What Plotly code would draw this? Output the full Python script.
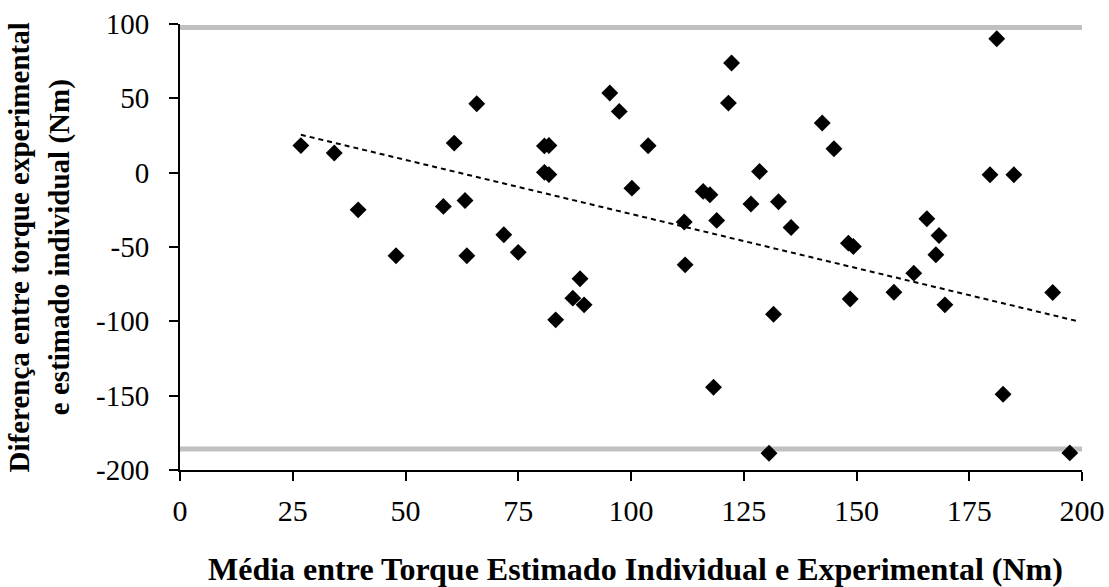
import plotly.graph_objects as go

# Mean of the two torque estimates (Nm) and their difference (Nm)
media = [26.8, 34.2, 39.5, 47.9, 58.4, 60.8, 63.2, 63.6, 65.8, 71.8,
         75.0, 80.8, 81.8, 80.8, 81.8, 83.3, 87.1, 88.7, 89.6, 95.3,
         97.4, 100.2, 103.8, 111.8, 112.0, 116.0, 117.5, 118.3, 119.0, 121.6,
         122.3, 126.6, 128.5, 130.6, 131.6, 132.7, 135.5, 142.4, 145.0, 148.2,
         149.3, 148.6, 158.3, 162.7, 165.6, 167.6, 168.3, 169.6, 179.6, 181.1,
         182.5, 184.9, 193.5, 197.3]
diferenca = [18.2, 13.2, -25.0, -55.9, -22.7, 19.9, -18.7, -55.9, 46.4, -41.8,
             -53.6, 18.0, 18.3, 0.2, -1.3, -99.0, -84.4, -71.4, -88.9, 53.6,
             41.2, -10.4, 18.1, -33.2, -62.0, -12.6, -14.9, -144.3, -32.1, 46.8,
             73.8, -21.1, 0.8, -188.7, -95.2, -19.6, -36.9, 33.4, 16.1, -47.4,
             -49.7, -85.0, -80.4, -67.6, -31.0, -55.2, -42.3, -88.9, -1.4, 90.1,
             -149.0, -1.4, -80.6, -188.5]

# Linear trend line end points
tendencia_x = [26.8, 199.3]
tendencia_y = [25.5, -100.1]

# Limits of agreement
limite_superior = 97.7
limite_inferior = -185.8

x_ticks = [0, 25, 50, 75, 100, 125, 150, 175, 200]
y_ticks = [100, 50, 0, -50, -100, -150, -200]
y_tick_text = ["100", "50", "0", "-50", "-100", "-150", "-200"]

FONT = "Liberation Serif, Times New Roman, serif"

fig = go.Figure()

# Limit-of-agreement lines
for lim in (limite_superior, limite_inferior):
    fig.add_trace(go.Scatter(
        x=[x_ticks[0], x_ticks[-1]], y=[lim, lim], mode="lines",
        line=dict(color="#c0c0c0", width=5), hoverinfo="skip", showlegend=False,
        cliponaxis=False,
    ))

fig.add_trace(go.Scatter(
    x=tendencia_x, y=tendencia_y, mode="lines",
    line=dict(color="black", width=2, dash="5px,4px"),
    showlegend=False,
))

fig.add_trace(go.Scatter(
    x=media, y=diferenca, mode="markers",
    marker=dict(symbol="diamond", size=13, color="black"),
    showlegend=False, cliponaxis=False,
))

fig.update_layout(
    width=1109, height=587,
    margin=dict(l=180, r=27, t=24, b=117),
    paper_bgcolor="white", plot_bgcolor="white",
    font=dict(family=FONT, color="black", size=30),
    xaxis=dict(
        range=[0, 200], tickvals=x_ticks, ticks="outside", ticklen=9,
        tickwidth=2, tickcolor="black", showline=True, linecolor="black",
        linewidth=2, showgrid=False, zeroline=False, automargin=False,
        tickfont=dict(family=FONT, size=30, color="black"),
        ticklabelstandoff=4,
    ),
    yaxis=dict(
        range=[-200, 100], tickvals=y_ticks, ticktext=y_tick_text,
        ticks="outside", ticklen=9,
        tickwidth=2, tickcolor="black", showline=True, linecolor="black",
        linewidth=2, showgrid=False, zeroline=False, automargin=False,
        tickfont=dict(family=FONT, size=29, color="black"),
        ticklabelstandoff=14,
    ),
)

fig.add_annotation(
    text="<b>Média entre Torque Estimado Individual e Experimental (Nm)</b>",
    xref="paper", yref="paper", x=0.505, y=-0.222, xanchor="center", yanchor="middle",
    showarrow=False, font=dict(family=FONT, size=32, color="black"),
)
fig.add_annotation(
    text="<b>Diferença entre torque experimental</b>",
    xref="paper", yref="paper", x=-0.178, y=0.5, xanchor="center", yanchor="middle",
    textangle=-90, showarrow=False, font=dict(family=FONT, size=29, color="black"),
)
fig.add_annotation(
    text="<b>e estimado individual (Nm)</b>",
    xref="paper", yref="paper", x=-0.134, y=0.5, xanchor="center", yanchor="middle",
    textangle=-90, showarrow=False, font=dict(family=FONT, size=29, color="black"),
)

fig.write_html("out.html")
